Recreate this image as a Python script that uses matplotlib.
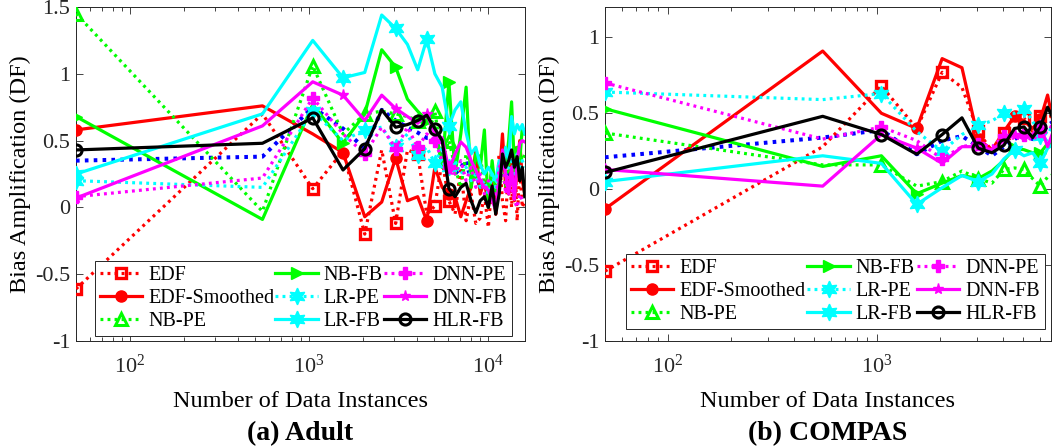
import numpy as np
import matplotlib
matplotlib.use("Agg")
import matplotlib.pyplot as plt
from matplotlib.ticker import FixedLocator, FixedFormatter, LogLocator, NullFormatter

plt.rcParams['font.family'] = ['Liberation Serif', 'DejaVu Serif']
plt.rcParams['mathtext.fontset'] = 'custom'
plt.rcParams['mathtext.rm'] = 'Liberation Serif'
plt.rcParams['mathtext.it'] = 'Liberation Serif:italic'
plt.rcParams['axes.unicode_minus'] = False

# ---------------- data ----------------
labels = ['EDF', 'EDF-Smoothed', 'NB-PE', 'NB-FB', 'LR-PE', 'LR-FB',
          'DNN-PE', 'DNN-FB', 'HLR-FB']

adult_x = [50, 550, 1050, 1550, 2050, 2550, 3050, 3550, 4050, 4550, 5050,
           5550, 6050, 6550, 7050, 7550, 8050, 8550, 9050, 9550, 10050,
           10550, 11050, 11550, 12050, 12550, 13050, 13550, 14050, 14550,
           15050, 15550, 16050]

adult_edf = [-0.61, 0.70, 0.14, 0.42, -0.20, 0.43, -0.12, 0.43, 0.40, -0.05, 0.01,
             0.35, 0.05, -0.05, 0.30, -0.10, 0.10, -0.12, -0.08, 0.10, -0.15,
             0.20, -0.05, 0.40, 0.05, -0.10, 0.35, 0.00, 0.45, -0.10, 0.30, 0.00, 0.05]
adult_edf_smoothed = [0.58, 0.76, 0.55, 0.41, -0.07, 0.04, 0.37, 0.05, 0.08, -0.10, 0.30,
                      0.15, 0.10, 0.08, -0.07, 0.05, 0.15, 0.43, 0.10, 0.20, 0.00,
                      0.30, -0.05, 0.20, 0.55, 0.15, 0.10, 0.35, 0.05, 0.30, 0.50, 0.20, 0.10]
adult_nb_pe = [1.45, -0.03, 1.06, 0.55, 0.70, 0.72, 0.70, 0.68, 0.65, 0.62, 0.72,
               0.35, 0.50, 0.30, 0.15, 0.40, 0.30, 0.20, 0.40, 0.15, 0.05,
               0.20, 0.10, 0.30, 0.25, 0.15, 0.35, 0.20, 0.30, 0.25, 0.40, 0.35, 0.40]
adult_nb_fb = [0.68, -0.09, 0.77, 0.48, 0.70, 1.18, 1.05, 0.81, 0.72, 0.65, 0.60,
               0.30, 0.94, 0.25, 0.55, 0.90, 0.15, 0.40, 0.30, 0.58, 0.00,
               0.35, 0.10, 0.20, 0.35, 0.30, 0.50, 0.79, 0.30, 0.45, 0.35, 0.60, 0.55]
adult_lr_pe = [0.20, 0.15, 0.72, 0.50, 0.58, 0.60, 0.45, 0.55, 0.39, 0.45, 0.33,
               0.45, 0.30, 0.35, 0.25, 0.30, 0.20, 0.25, 0.15, 0.20, 0.10,
               0.25, 0.15, 0.30, 0.35, 0.25, 0.30, 0.35, 0.25, 0.40, 0.30, 0.35, 0.30]
adult_lr_fb = [0.25, 0.70, 1.25, 0.97, 1.01, 1.44, 1.34, 1.22, 1.03, 1.26, 1.00,
               0.90, 0.61, 0.73, 0.79, 0.56, 0.40, 0.45, 0.32, 0.25, 0.30,
               0.25, 0.20, 0.35, 0.30, 0.45, 0.35, 0.68, 0.55, 0.62, 0.58, 0.62, 0.55]
adult_dnn_pe = [0.08, 0.22, 0.82, 0.55, 0.40, 0.60, 0.44, 0.60, 0.45, 0.55, 0.50,
                0.35, 0.30, 0.25, 0.35, 0.20, 0.30, 0.15, 0.25, 0.10, 0.20,
                0.15, 0.05, 0.30, 0.35, 0.10, 0.25, 0.15, 0.05, 0.00, 0.10, 0.05, 0.05]
adult_dnn_fb = [0.07, 0.61, 0.94, 0.84, 0.65, 0.84, 0.74, 0.68, 0.63, 0.70, 0.55,
                0.52, 0.28, 0.40, 0.49, 0.45, 0.35, 0.28, 0.20, 0.15, 0.13,
                0.05, -0.02, 0.20, 0.43, 0.25, 0.10, 0.30, 0.06, 0.35, 0.48, 0.50, 0.49]
adult_hlr_fb = [0.43, 0.48, 0.67, 0.28, 0.44, 0.73, 0.60, 0.62, 0.65, 0.69, 0.59,
                0.50, 0.14, 0.08, 0.15, 0.18, 0.05, -0.04, 0.05, 0.08, 0.00,
                0.16, -0.05, 0.10, 0.40, 0.30, 0.35, 0.43, 0.30, 0.38, 0.20, 0.30, 0.08]
adult_hlr_pe = [0.35, 0.38, 0.75, 0.59, 0.44, 0.73, 0.65, 0.60, 0.56, 0.52, 0.52,
                0.38, 0.30, 0.25, 0.30, 0.35, 0.20, 0.25, 0.15, 0.20, 0.10,
                0.25, 0.15, 0.30, 0.35, 0.40, 0.25, 0.35, 0.30, 0.30, 0.25, 0.30, 0.28]

compas_x = [50, 550, 1050, 1550, 2050, 2550, 3050, 3550, 4050, 4550, 5050,
            5550, 6050, 6550, 7050]

compas_edf = [-0.54, 0.28, 0.68, 0.40, 0.77, 0.67, 0.38, 0.25, 0.37, 0.47, 0.47, 0.38, 0.48, 0.55, 0.40]
compas_edf_smoothed = [-0.13, 0.91, 0.50, 0.40, 0.86, 0.80, 0.33, 0.26, 0.38, 0.48, 0.45, 0.40, 0.46, 0.62, 0.40]
compas_nb_pe = [0.37, 0.16, 0.16, 0.02, 0.05, 0.12, 0.07, 0.04, 0.13, 0.14, 0.13, 0.07, 0.02, 0.08, 0.10]
compas_nb_fb = [0.53, 0.15, 0.22, -0.03, 0.04, 0.09, 0.07, 0.12, 0.19, 0.27, 0.26, 0.24, 0.24, 0.30, 0.30]
compas_lr_pe = [0.64, 0.59, 0.63, 0.38, 0.25, 0.36, 0.42, 0.45, 0.50, 0.50, 0.53, 0.45, 0.35, 0.40, 0.38]
compas_lr_fb = [0.05, 0.22, 0.17, -0.10, 0.01, 0.09, 0.05, 0.10, 0.20, 0.26, 0.22, 0.24, 0.17, 0.27, 0.30]
compas_dnn_pe = [0.70, 0.33, 0.41, 0.32, 0.20, 0.28, 0.30, 0.28, 0.35, 0.36, 0.36, 0.32, 0.38, 0.42, 0.40]
compas_dnn_fb = [0.13, 0.02, 0.36, 0.27, 0.17, 0.28, 0.28, 0.26, 0.32, 0.36, 0.33, 0.36, 0.42, 0.28, 0.40]
compas_hlr_fb = [0.11, 0.48, 0.36, 0.23, 0.36, 0.47, 0.27, 0.24, 0.29, 0.40, 0.41, 0.34, 0.41, 0.54, 0.45]
compas_hlr_pe = [0.21, 0.34, 0.39, 0.23, 0.32, 0.35, 0.28, 0.22, 0.28, 0.33, 0.36, 0.33, 0.35, 0.42, 0.45]

y_ticks_adult = [-1, -0.5, 0, 0.5, 1, 1.5]
y_ticklabels_adult = ['-1', '-0.5', '0', '0.5', '1', '1.5']
y_ticks_compas = [-1, -0.5, 0, 0.5, 1]
y_ticklabels_compas = ['-1', '-0.5', '0', '0.5', '1']

# ---------------- styles ----------------
RED, GREEN, CYAN, MAG, BLK, BLUE = '#ff0000', '#00ff00', '#00ffff', '#ff00ff', '#000000', '#0000ff'
DOT = (0, (0.9, 1.3))
LW = 2.3
star6 = (6, 1, 0)
EVERY2 = [0, 2, 4, 6, 8, 10, 12]
EVERY3 = [0, 3, 6, 9, 12]
styles = [
    dict(color=RED, ls=DOT, marker='s', ms=7, mfc='none', mew=2.4, every=EVERY2),
    dict(color=RED, ls='-', marker='o', ms=8, mfc=RED, mew=1, every=EVERY3),
    dict(color=GREEN, ls=DOT, marker='^', ms=9, mfc='none', mew=2.2, every=EVERY2),
    dict(color=GREEN, ls='-', marker='>', ms=9, mfc=GREEN, mew=1, every=EVERY3),
    dict(color=CYAN, ls=DOT, marker=star6, ms=12, mfc=CYAN, mew=1, every=EVERY2),
    dict(color=CYAN, ls='-', marker=star6, ms=12, mfc=CYAN, mew=1, every=EVERY3),
    dict(color=MAG, ls=DOT, marker='P', ms=8, mfc=MAG, mew=1, every=EVERY2),
    dict(color=MAG, ls='-', marker='*', ms=8, mfc=MAG, mew=1, every=EVERY3),
    dict(color=BLK, ls='-', marker='o', ms=8, mfc='none', mew=2.2, every=EVERY2),
]

fig = plt.figure(figsize=(10.55, 4.46), dpi=100)
W, H = 1055, 446
ax1 = fig.add_axes([76 / W, 1 - 341 / H, 449 / W, 334 / H])
ax2 = fig.add_axes([605 / W, 1 - 341 / H, 446 / W, 334 / H])

panels = [
    (ax1, adult_x, [adult_edf, adult_edf_smoothed, adult_nb_pe, adult_nb_fb, adult_lr_pe,
                    adult_lr_fb, adult_dnn_pe, adult_dnn_fb, adult_hlr_fb], adult_hlr_pe,
     (50, 16100), (-1, 1.5), y_ticks_adult, y_ticklabels_adult, '(a) Adult',
     (0.042, 0.015, 0.929, 0.2)),
    (ax2, compas_x, [compas_edf, compas_edf_smoothed, compas_nb_pe, compas_nb_fb, compas_lr_pe,
                     compas_lr_fb, compas_dnn_pe, compas_dnn_fb, compas_hlr_fb], compas_hlr_pe,
     (50, 6800), (-1, 1.2), y_ticks_compas, y_ticklabels_compas, '(b) COMPAS',
     (0.047, 0.036, 0.939, 0.2)),
]

TICKFS = 16
LABFS = 17.5
LEGFS = 14.5
for ax, xs, series, extra, xlim, ylim, yt, ytl, cap, legbox in panels:
    handles = []
    for lab, ys, st in zip(labels, series, styles):
        h, = ax.plot(xs, ys, color=st['color'], ls=st['ls'], lw=LW,
                     marker=st['marker'], ms=st['ms'], mfc=st['mfc'],
                     mec=st['color'], mew=st['mew'], markevery=st['every'],
                     label=lab, zorder=3)
        handles.append(h)
    ax.plot(xs, extra, color=BLUE, ls=DOT, lw=LW + 0.6, zorder=2.9)
    ax.set_xscale('log')
    ax.set_xlim(*xlim)
    ax.set_ylim(*ylim)
    ax.yaxis.set_major_locator(FixedLocator(yt))
    ax.yaxis.set_major_formatter(FixedFormatter(ytl))
    ax.xaxis.set_major_locator(LogLocator(base=10, numticks=10))
    ax.xaxis.set_minor_locator(LogLocator(base=10, subs=np.arange(2, 10), numticks=20))
    ax.xaxis.set_minor_formatter(NullFormatter())
    ax.tick_params(which='both', direction='in', top=True, right=True,
                   labelsize=TICKFS, colors='#262626', width=0.6)
    ax.tick_params(which='major', length=5)
    ax.tick_params(axis='x', which='major', pad=10)
    ax.tick_params(axis='y', which='major', pad=4)
    ax.tick_params(which='minor', length=2.8)
    for sp in ax.spines.values():
        sp.set_color('#262626')
        sp.set_linewidth(0.7)
    ax.set_xlabel('Number of Data Instances', fontsize=LABFS, labelpad=9)
    ax.set_ylabel('Bias Amplification (DF)', fontsize=LABFS, labelpad=3)
    leg = ax.legend(handles=handles, ncol=3, loc='lower left',
                    bbox_to_anchor=legbox, mode='expand',
                    fontsize=LEGFS, frameon=True, fancybox=False,
                    edgecolor='#262626', framealpha=1, handlelength=2.1,
                    handletextpad=0.3, columnspacing=0.6, labelspacing=0.2,
                    borderpad=0.25, borderaxespad=0.0)
    leg.get_frame().set_linewidth(0.7)
    bb = ax.get_position()
    fig.text((bb.x0 + bb.x1) / 2, 1 - 434 / H, cap, ha='center', va='center',
             fontsize=20, fontweight='bold')

fig.savefig('out.png', dpi=100)
